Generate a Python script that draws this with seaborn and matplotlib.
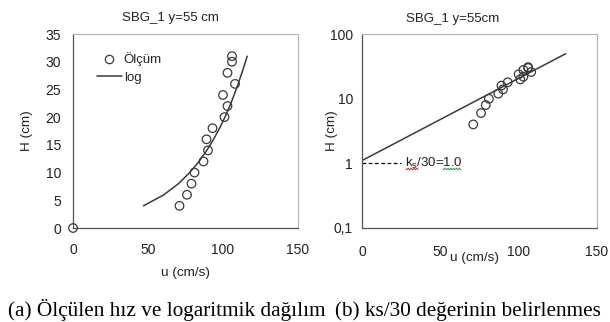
import numpy as np
import pandas as pd
import matplotlib
matplotlib.use("Agg")
import matplotlib.pyplot as plt
from matplotlib.ticker import FuncFormatter, LogLocator, NullFormatter
from matplotlib.lines import Line2D
import seaborn as sns

# ---- data ----
u_meas = [0, 71, 76, 79, 81, 87, 90, 89, 93, 101, 103, 100, 108, 103, 106, 106]
H_meas = [0, 4, 6, 8, 10, 12, 14, 16, 18, 20, 22, 24, 26, 28, 30, 31]

H_log = [4, 6, 8, 10, 12, 14, 16, 18, 20, 22, 24, 26, 28, 30, 31]
u_log = [47, 60.6, 70.3, 77.8, 84.0, 89.2, 93.7, 97.7, 101.3, 104.5, 107.4, 110.1, 112.6, 115.0, 116.1]

u_fit = [0, 130]
H_fit = [1.1, 50]

ks30_u = [0, 25]
ks30_H = [1.0, 1.0]

left_title = "SBG_1 y=55 cm"
right_title = "SBG_1 y=55cm"
cap_a = "(a) Ölçülen hız ve logaritmik dağılım"
cap_b = "(b) ks/30 değerinin belirlenmes"

sns.set_style("white")
plt.rcParams["font.family"] = ["Liberation Sans", "DejaVu Sans"]
plt.rcParams["font.size"] = 9

dark = "#3a3a3a"
txt = "#222222"

fig = plt.figure(figsize=(6.10, 3.22), dpi=100)
W, Hh = 610, 322
def axrect(x0, x1, ytop, ybot):
    return [x0 / W, 1 - ybot / Hh, (x1 - x0) / W, (ybot - ytop) / Hh]

axL = fig.add_axes(axrect(73, 298, 34, 228))
axR = fig.add_axes(axrect(362, 597, 34.3, 227.7))

df_meas = pd.DataFrame({"u": u_meas, "H": H_meas})
df_log = pd.DataFrame({"u": u_log, "H": H_log})

# ---- left panel ----
sns.lineplot(data=df_log, x="u", y="H", sort=False, ax=axL, color=dark, lw=1.1)
sns.scatterplot(data=df_meas, x="u", y="H", ax=axL, marker="o", s=38,
                facecolors="none", edgecolor=dark, linewidth=0.9, clip_on=False, zorder=3)
axL.set_xlim(0, 150)
axL.set_ylim(0, 35)
axL.set_xticks([0, 50, 100, 150])
axL.set_yticks(range(0, 36, 5))
handles = [Line2D([], [], marker="o", ls="none", markerfacecolor="none", markeredgecolor=dark,
                  markersize=6, markeredgewidth=0.9),
           Line2D([], [], color=dark, lw=1.1)]
axL.legend(handles, ["Ölçüm", "log"], frameon=False, loc="upper left",
           bbox_to_anchor=(0.105, 0.905), borderaxespad=0, borderpad=0,
           handlelength=1.9, handletextpad=0.15, labelspacing=0.4, fontsize=9.5)

# ---- right panel ----
sns.lineplot(x=u_fit, y=H_fit, ax=axR, color=dark, lw=1.1)
sns.lineplot(x=ks30_u, y=ks30_H, ax=axR, color="black", lw=0.9, linestyle=(0, (3, 2)))
sns.scatterplot(data=df_meas[df_meas.H > 0], x="u", y="H", ax=axR, marker="o", s=38,
                facecolors="none", edgecolor=dark, linewidth=0.9, zorder=3)
axR.set_yscale("log")
axR.set_xlim(0, 150)
axR.set_ylim(0.1, 100)
axR.set_xticks([0, 50, 100, 150])
axR.set_yticks([0.1, 1, 10, 100])
axR.yaxis.set_major_formatter(FuncFormatter(lambda v, p: ("%g" % v).replace(".", ",")))
axR.yaxis.set_minor_locator(LogLocator(base=10, subs=np.arange(2, 10)))
axR.yaxis.set_minor_formatter(NullFormatter())
t = axR.text(27.5, 1.0, r"k$_\mathregular{s}$/30=1.0", va="center", ha="left", fontsize=9.5, color=txt)

# spell-check squiggles (decoration)
def squiggle(x0, x1, y, color):
    xs = np.linspace(x0, x1, 25)
    ys = y + 0.8 * np.sin((xs - x0) * 2.2)
    fig.add_artist(Line2D(xs / W, 1 - ys / Hh, color=color, lw=0.7))
squiggle(406, 418, 169, "#d03030")
squiggle(443, 461, 169, "#30a030")

for ax in (axL, axR):
    for s in ("top", "right"):
        ax.spines[s].set_color("#b5b5b5")
        ax.spines[s].set_linewidth(0.8)
    for s in ("left", "bottom"):
        ax.spines[s].set_color("#555555")
        ax.spines[s].set_linewidth(0.9)
    ax.tick_params(axis="both", which="major", direction="out", length=3.5, width=0.8,
                   color="#555555", labelcolor=txt, labelsize=10)
    ax.tick_params(axis="both", which="minor", direction="out", length=2, width=0.6, color="#555555")
    ax.set_xlabel("u (cm/s)", color=txt, fontsize=9.7)
    ax.set_ylabel("H (cm)", color=txt, fontsize=9.7)

axL.tick_params(axis="x", pad=7)
axL.tick_params(axis="y", pad=5)
axR.tick_params(axis="x", pad=9)
axR.tick_params(axis="y", pad=3)
axL.xaxis.set_label_coords(0.5, -0.20)
axR.xaxis.set_label_coords(0.48, -0.125)
axL.yaxis.set_label_coords(-0.178, 0.5)
axR.yaxis.set_label_coords(-0.102, 0.5)

axL.set_title(left_title, fontsize=9.5, color=txt, x=0.431, pad=9)
axR.set_title(right_title, fontsize=9.5, color=txt, x=0.387, pad=9)

fig.text(8 / W, 1 - 316 / Hh, cap_a, family="Liberation Serif", fontsize=15.3, color="black",
         ha="left", va="baseline")
fig.text(335 / W, 1 - 316 / Hh, cap_b, family="Liberation Serif", fontsize=15.3, color="black",
         ha="left", va="baseline")

fig.savefig("out.png", dpi=100)
